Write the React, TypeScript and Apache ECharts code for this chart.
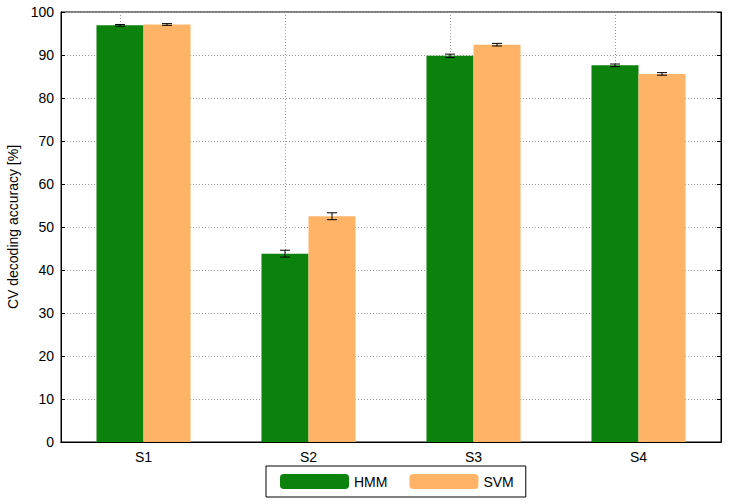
import React, { useEffect, useRef } from "react";
import * as echarts from "echarts";

const categories = ["S1", "S2", "S3", "S4"];
const hmmValues = [96.9, 43.8, 89.8, 87.6];
const hmmErrors = [0.2, 0.8, 0.4, 0.3];
const svmValues = [97.1, 52.5, 92.4, 85.6];
const svmErrors = [0.2, 0.8, 0.3, 0.3];

const GREEN = "#0b820b";
const ORANGE = "#ffb366";

function errorSeries(values: number[], errs: number[], offset: number) {
  return {
    type: "custom",
    xAxisIndex: 0,
    yAxisIndex: 0,
    z: 10,
    silent: true,
    data: values.map((v, i) => [i, v - errs[i], v + errs[i]]),
    renderItem: (params: any, api: any) => {
      const idx = api.value(0);
      const lo = api.coord([idx, api.value(1)]);
      const hi = api.coord([idx, api.value(2)]);
      const band = api.size([1, 0])[0];
      const x = lo[0] + offset * band;
      const cap = 5;
      const style = { stroke: "#000", lineWidth: 1, fill: "none" };
      return {
        type: "group",
        children: [
          { type: "line", shape: { x1: x, y1: lo[1], x2: x, y2: hi[1] }, style },
          { type: "line", shape: { x1: x - cap, y1: lo[1], x2: x + cap, y2: lo[1] }, style },
          { type: "line", shape: { x1: x - cap, y1: hi[1], x2: x + cap, y2: hi[1] }, style },
        ],
      };
    },
  };
}

export default function App() {
  const ref = useRef<HTMLDivElement>(null);
  useEffect(() => {
    const chart = echarts.init(ref.current!, null, { renderer: "svg" });
    const font = "Liberation Sans, Arial, sans-serif";
    const gridDots = { type: [1, 2] as any, color: "#999", width: 1 };
    chart.setOption({
      animation: false,
      textStyle: { fontFamily: font },
      grid: {
        left: 61, right: 8, top: 12, bottom: 62,
        outerBoundsMode: "none",
        containLabel: false,
        show: true, borderColor: "#000", borderWidth: 1, backgroundColor: "transparent",
      },
      legend: {
        bottom: 7,
        left: 266,
        itemWidth: 69,
        itemHeight: 15,
        itemGap: 22,
        padding: [8, 12, 8, 14],
        borderColor: "#000",
        borderWidth: 1,
        textStyle: { fontSize: 14, color: "#000", fontFamily: font },
        data: ["HMM", "SVM"],
      },
      xAxis: [
        {
          type: "category",
          data: categories,
          axisLine: { lineStyle: { color: "#000" } },
          axisTick: { inside: true, alignWithLabel: true, length: 4, lineStyle: { color: "#000" } },
          axisLabel: { color: "#000", fontSize: 14, margin: 8 },
          splitLine: { show: false },
        },
        {
          type: "category",
          data: categories,
          position: "top",
          axisLine: { lineStyle: { color: "#000" } },
          axisTick: { inside: true, alignWithLabel: true, length: 4, lineStyle: { color: "#000" } },
          axisLabel: { show: false },
        },
      ],
      yAxis: [
        {
          type: "value",
          min: 0,
          max: 100,
          interval: 10,
          name: "CV decoding accuracy [%]",
          nameLocation: "middle",
          nameGap: 41,
          nameTextStyle: { color: "#000", fontSize: 14 },
          axisLine: { show: true, lineStyle: { color: "#000" } },
          axisTick: { show: true, inside: true, length: 4, lineStyle: { color: "#000" } },
          axisLabel: { color: "#000", fontSize: 14, margin: 7 },
          splitLine: { show: true, lineStyle: gridDots },
        },
        {
          type: "value",
          min: 0,
          max: 100,
          interval: 10,
          position: "right",
          axisLine: { show: true, lineStyle: { color: "#000" } },
          axisTick: { show: true, inside: true, length: 4, lineStyle: { color: "#000" } },
          axisLabel: { show: false },
          splitLine: { show: false },
        },
      ],
      series: [
        {
          name: "HMM",
          type: "bar",
          data: hmmValues,
          barWidth: "28.5%",
          barGap: "0%",
          itemStyle: { color: GREEN },
          markLine: {
            silent: true,
            symbol: ["none", "none"],
            label: { show: false },
            lineStyle: gridDots,
            z: 1,
            data: categories.map((c) => ({ xAxis: c })),
          },
        },
        {
          name: "SVM",
          type: "bar",
          data: svmValues,
          barWidth: "28.5%",
          barGap: "0%",
          itemStyle: { color: ORANGE },
        },
        errorSeries(hmmValues, hmmErrors, -0.1425),
        errorSeries(svmValues, svmErrors, 0.1425),
      ],
    });
    return () => chart.dispose();
  }, []);
  return <div ref={ref} style={{ position: "absolute", left: 0, top: 0, width: 729, height: 504 }} />;
}
